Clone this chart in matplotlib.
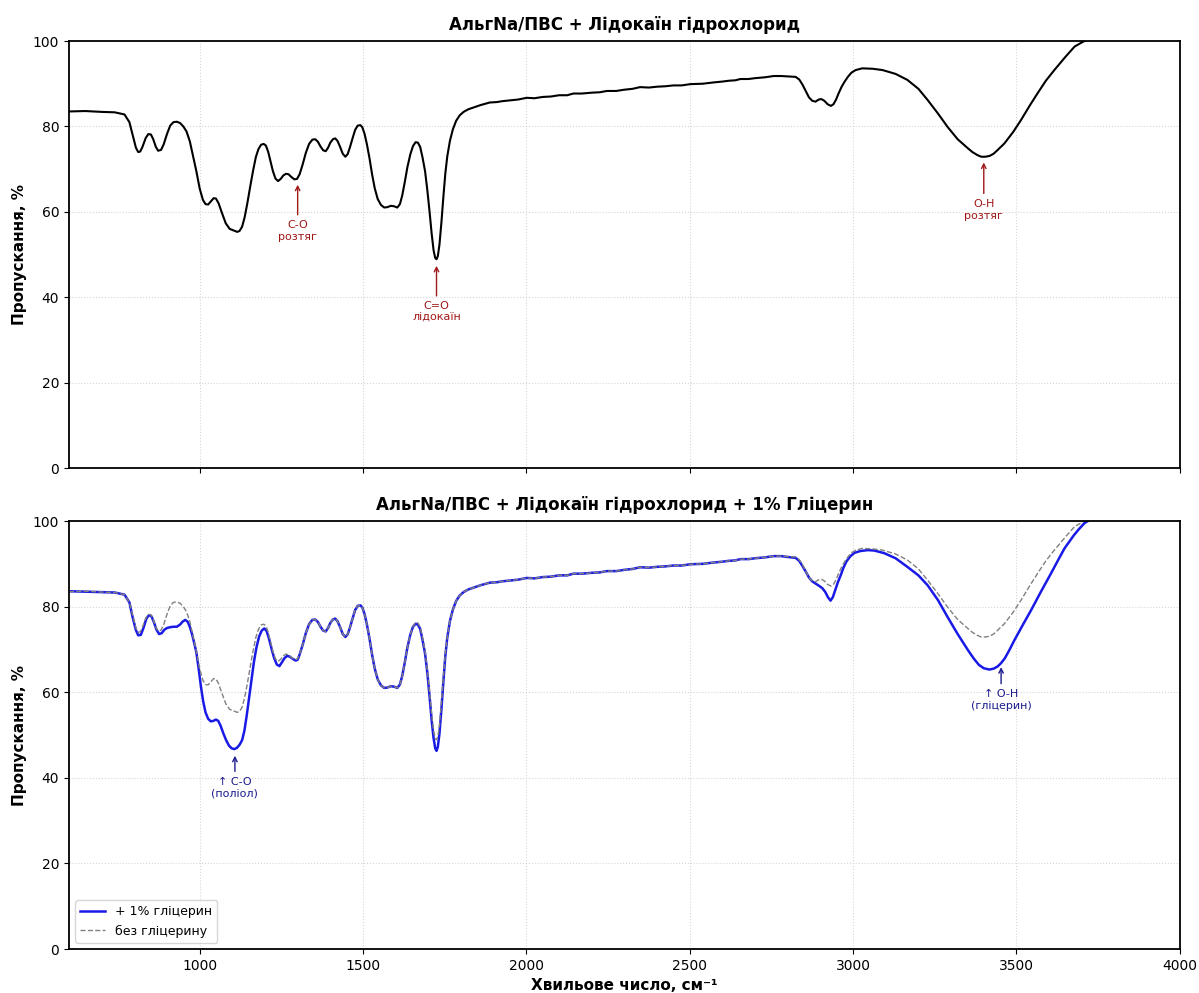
import numpy as np
import matplotlib
matplotlib.use("Agg")
import matplotlib.pyplot as plt

# спектр без гліцерину (хвильове число, пропускання)
wn_base = [600, 650, 700, 740, 770, 785, 795, 805, 812, 818, 825, 835, 843, 851, 858, 866, 873,
           882, 890, 900, 910, 920, 930, 940, 950, 960, 970, 980, 990, 1000, 1010, 1018, 1026,
           1035, 1043, 1050, 1058, 1068, 1080, 1092, 1105, 1115, 1122, 1130, 1138, 1146, 1155,
           1164, 1172, 1180, 1188, 1196, 1203, 1210, 1217, 1224, 1232, 1240, 1248, 1256, 1264,
           1272, 1280, 1290, 1298, 1306, 1315, 1325, 1335, 1345, 1354, 1362, 1370, 1378, 1386,
           1393, 1400, 1408, 1415, 1422, 1430, 1438, 1446, 1453, 1460, 1468, 1476, 1484, 1492,
           1498, 1505, 1512, 1520, 1528, 1536, 1545, 1555, 1565, 1575, 1585, 1595, 1605, 1613,
           1620, 1628, 1636, 1645, 1653, 1661, 1668, 1675, 1682, 1690, 1697, 1704, 1710, 1716,
           1721, 1725, 1729, 1734, 1740, 1746, 1752, 1758, 1766, 1775, 1785, 1796, 1808, 1822,
           1837, 1860, 1888, 1910, 1925, 1950, 1975, 2001, 2025, 2050, 2075, 2100, 2125, 2144,
           2170, 2200, 2225, 2246, 2275, 2300, 2325, 2348, 2375, 2400, 2425, 2450, 2475, 2502,
           2540, 2573, 2600, 2620, 2640, 2655, 2680, 2700, 2730, 2757, 2780, 2800, 2824, 2835,
           2845, 2855, 2865, 2875, 2885, 2895, 2903, 2912, 2922, 2932, 2940, 2948, 2956, 2965,
           2975, 2985, 2995, 3008, 3028, 3060, 3090, 3130, 3166, 3200, 3228, 3260, 3289, 3320,
           3351, 3365, 3380, 3392, 3405, 3418, 3430, 3440, 3463, 3490, 3514, 3540, 3565, 3590,
           3616, 3650, 3678, 3703, 3750, 3850, 4000]
t_base = [83.5, 83.6, 83.4, 83.3, 82.8, 81.0, 78.0, 75.0, 74.0, 74.1, 75.2, 77.3, 78.2, 78.1,
          77.0, 75.2, 74.3, 74.5, 75.8, 78.2, 80.2, 81.0, 81.1, 80.8, 80.0, 78.8, 76.5, 73.0,
          69.5, 65.5, 62.8, 61.8, 61.7, 62.5, 63.2, 63.1, 62.0, 59.8, 57.3, 56.0, 55.6, 55.3,
          55.5, 56.5, 58.8, 62.0, 66.0, 69.8, 72.8, 74.7, 75.7, 75.9, 75.5, 74.0, 71.8, 69.6,
          67.8, 67.2, 67.7, 68.5, 68.9, 68.8, 68.2, 67.6, 67.7, 68.8, 71.0, 73.8, 75.9, 76.9,
          77.0, 76.4, 75.3, 74.4, 74.2, 75.0, 76.2, 77.0, 77.2, 76.6, 75.2, 73.6, 72.9, 73.5,
          75.1, 77.2, 79.2, 80.2, 80.3, 79.8, 78.2, 75.8, 72.5, 68.7, 65.5, 63.0, 61.6, 61.0,
          61.1, 61.4, 61.3, 61.0, 61.8, 63.8, 67.0, 70.5, 73.5, 75.4, 76.3, 76.2, 75.2, 72.8,
          69.5, 65.0, 59.8, 55.0, 51.0, 49.2, 48.9, 49.6, 52.3, 57.5, 63.5, 69.0, 73.0, 76.6,
          79.3, 81.3, 82.6, 83.4, 84.0, 84.4, 85.0, 85.6, 85.7, 85.9, 86.1, 86.3, 86.7, 86.6,
          86.9, 87.0, 87.3, 87.3, 87.7, 87.7, 87.9, 88.0, 88.3, 88.3, 88.6, 88.8, 89.2, 89.1,
          89.3, 89.4, 89.6, 89.6, 89.9, 90.0, 90.3, 90.5, 90.7, 90.8, 91.1, 91.1, 91.3, 91.5,
          91.8, 91.8, 91.7, 91.6, 91.0, 89.8, 88.3, 86.8, 86.0, 85.8, 86.3, 86.4, 86.0, 85.2,
          84.8, 85.2, 86.3, 87.8, 89.3, 90.6, 91.7, 92.6, 93.2, 93.6, 93.5, 93.2, 92.3, 90.9,
          88.8, 86.2, 83.0, 79.9, 77.0, 74.9, 74.0, 73.3, 72.9, 72.9, 73.1, 73.6, 74.3, 76.0,
          78.7, 81.5, 84.8, 87.8, 90.7, 93.2, 96.3, 98.7, 99.8, 101.5, 103.5, 105.0]

# спектр з 1% гліцерину
wn_gly = [600, 650, 700, 740, 770, 785, 795, 805, 812, 820, 828, 837, 845, 852, 860, 868, 876,
          884, 892, 900, 910, 920, 930, 940, 948, 956, 963, 970, 977, 984, 990, 997, 1004, 1011,
          1018, 1026, 1034, 1042, 1050, 1057, 1064, 1072, 1081, 1090, 1098, 1106, 1114, 1122,
          1130, 1137, 1144, 1151, 1158, 1166, 1174, 1182, 1190, 1198, 1205, 1212, 1220, 1228,
          1236, 1244, 1252, 1260, 1268, 1276, 1285, 1294, 1300, 1306, 1315, 1325, 1335, 1345,
          1354, 1362, 1370, 1378, 1386, 1393, 1400, 1408, 1415, 1422, 1430, 1438, 1446, 1453,
          1460, 1468, 1476, 1484, 1492, 1498, 1505, 1512, 1520, 1528, 1536, 1545, 1555, 1565,
          1575, 1585, 1595, 1605, 1613, 1620, 1628, 1636, 1645, 1653, 1661, 1668, 1675, 1682,
          1690, 1697, 1704, 1710, 1716, 1721, 1725, 1729, 1734, 1740, 1746, 1752, 1758, 1766,
          1775, 1785, 1796, 1808, 1822, 1837, 1860, 1888, 1910, 1925, 1950, 1975, 2001, 2025,
          2050, 2075, 2100, 2125, 2144, 2170, 2200, 2225, 2246, 2275, 2300, 2325, 2348, 2375,
          2400, 2425, 2450, 2475, 2502, 2540, 2573, 2600, 2620, 2640, 2655, 2680, 2700, 2730,
          2757, 2780, 2800, 2824, 2835, 2845, 2855, 2865, 2875, 2885, 2895, 2906, 2915, 2923,
          2931, 2938, 2945, 2953, 2962, 2970, 2980, 2992, 3005, 3023, 3045, 3065, 3095, 3130,
          3166, 3200, 3228, 3260, 3289, 3320, 3351, 3370, 3385, 3400, 3417, 3430, 3442, 3453,
          3465, 3478, 3494, 3520, 3545, 3575, 3606, 3627, 3647, 3660, 3675, 3690, 3708, 3750,
          3850, 4000]
t_gly = [83.6, 83.5, 83.4, 83.3, 82.8, 81.0, 77.5, 74.5, 73.3, 73.4, 75.0, 77.2, 78.0, 77.8,
         76.4, 74.6, 73.6, 73.8, 74.6, 75.0, 75.2, 75.3, 75.3, 75.8, 76.5, 76.9, 76.5, 75.3,
         73.5, 71.3, 69.3, 65.5, 61.3, 57.8, 55.3, 53.8, 53.2, 53.3, 53.6, 53.3, 52.2, 50.5,
         48.8, 47.5, 46.9, 46.7, 47.0, 47.7, 48.8, 51.0, 54.5, 58.5, 62.5, 67.0, 70.5, 73.0,
         74.4, 74.9, 74.3, 72.6, 70.2, 68.0, 66.5, 66.1, 67.0, 68.0, 68.5, 68.3, 67.8, 67.4,
         67.6, 68.8, 71.0, 73.8, 75.9, 76.9, 77.0, 76.4, 75.3, 74.4, 74.2, 75.0, 76.2, 77.0,
         77.2, 76.6, 75.2, 73.6, 72.9, 73.5, 75.1, 77.2, 79.2, 80.2, 80.3, 79.8, 78.2, 75.8,
         72.5, 68.7, 65.5, 63.0, 61.6, 61.0, 61.1, 61.4, 61.3, 61.0, 61.8, 63.8, 67.0, 70.5,
         73.5, 75.3, 76.0, 75.8, 74.8, 72.3, 69.0, 64.5, 58.8, 53.5, 49.3, 46.9, 46.3, 47.2,
         50.3, 56.0, 62.5, 68.5, 72.8, 76.6, 79.3, 81.3, 82.6, 83.4, 84.0, 84.4, 85.0, 85.6,
         85.7, 85.9, 86.1, 86.3, 86.7, 86.6, 86.9, 87.0, 87.3, 87.3, 87.7, 87.7, 87.9, 88.0,
         88.3, 88.3, 88.6, 88.8, 89.2, 89.1, 89.3, 89.4, 89.6, 89.6, 89.9, 90.0, 90.3, 90.5,
         90.7, 90.8, 91.1, 91.1, 91.3, 91.5, 91.8, 91.8, 91.6, 91.4, 90.7, 89.5, 88.2, 86.8,
         85.9, 85.4, 84.9, 84.3, 83.4, 82.2, 81.4, 82.2, 83.8, 85.6, 87.3, 89.0, 90.6, 91.8,
         92.6, 93.0, 93.2, 93.1, 92.5, 91.3, 89.3, 87.3, 85.0, 81.5, 77.6, 73.6, 69.9, 67.8,
         66.4, 65.6, 65.3, 65.5, 66.0, 66.8, 68.0, 69.8, 72.2, 75.8, 79.2, 83.5, 87.8, 90.8,
         93.6, 95.0, 96.6, 98.0, 99.5, 101.5, 103.5, 105.0]

title_top = "АльгNa/ПВС + Лідокаїн гідрохлорид"
title_bot = "АльгNa/ПВС + Лідокаїн гідрохлорид + 1% Гліцерин"

fig = plt.figure(figsize=(11.99, 9.93), dpi=100)
ax1 = fig.add_axes([0.0575, 0.5287, 0.9265, 0.43])
ax2 = fig.add_axes([0.0575, 0.0443, 0.9265, 0.431], sharex=ax1)

ax1.plot(wn_base, t_base, color="black", lw=1.5)
ax1.set_title(title_top, fontsize=12, fontweight="bold", pad=8)

red = "#a01818"
ax1.annotate("C-O\nрозтяг", xy=(1300, 67.0), xytext=(1300, 58.0), ha="center", va="top",
             color=red, fontsize=8, arrowprops=dict(arrowstyle="->", color=red, lw=1))
ax1.annotate("C=O\nлідокаїн", xy=(1725, 48.0), xytext=(1725, 39.0), ha="center", va="top",
             color=red, fontsize=8, arrowprops=dict(arrowstyle="->", color=red, lw=1))
ax1.annotate("O-H\nрозтяг", xy=(3400, 72.2), xytext=(3400, 63.0), ha="center", va="top",
             color=red, fontsize=8, arrowprops=dict(arrowstyle="->", color=red, lw=1))

ax2.plot(wn_gly, t_gly, color="#1a1ae6", lw=1.8, label="+ 1% гліцерин")
ax2.plot(wn_base, t_base, color="gray", lw=1, ls="--", label="без гліцерину")
ax2.set_title(title_bot, fontsize=12, fontweight="bold", pad=8)

blue = "#1a1a8c"
ax2.annotate("↑ C-O\n(поліол)", xy=(1108, 45.8), xytext=(1108, 40.2), ha="center", va="top",
             color=blue, fontsize=8, arrowprops=dict(arrowstyle="->", color=blue, lw=1))
ax2.annotate("↑ O-H\n(гліцерин)", xy=(3453, 66.5), xytext=(3453, 60.7), ha="center", va="top",
             color=blue, fontsize=8, arrowprops=dict(arrowstyle="->", color=blue, lw=1))
ax2.legend(loc="lower left", fontsize=9)
ax2.set_xlabel("Хвильове число, см⁻¹", fontsize=11, fontweight="bold")

for ax in (ax1, ax2):
    ax.set_xlim(600, 4000)
    ax.set_ylim(0, 100)
    ax.set_ylabel("Пропускання, %", fontsize=11, fontweight="bold")
    ax.grid(True, ls=":", color="#cccccc", alpha=0.8)
    ax.tick_params(labelsize=10)
    for s in ax.spines.values():
        s.set_linewidth(1.3)
plt.setp(ax1.get_xticklabels(), visible=False)

fig.savefig("out.png", dpi=100)
